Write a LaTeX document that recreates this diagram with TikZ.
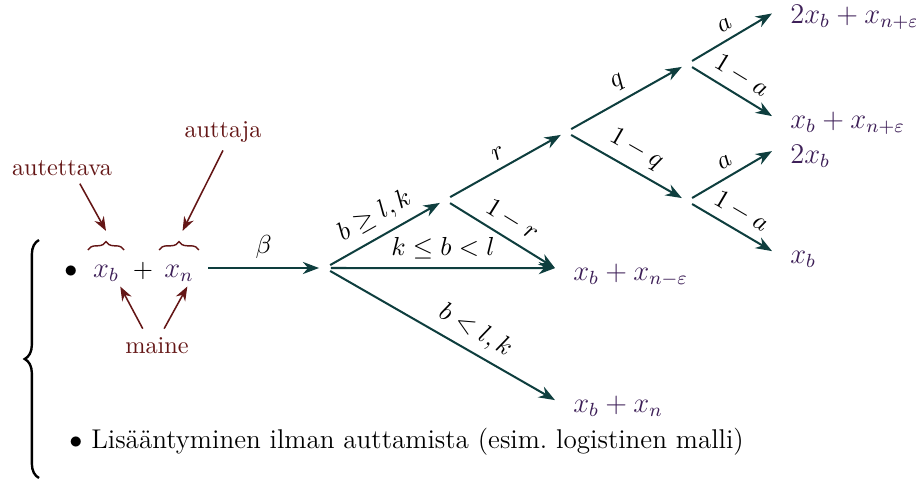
\documentclass[tikz,border=0pt]{standalone}
\usepackage{amsmath}
\usetikzlibrary{arrows.meta,decorations.pathreplacing}
\definecolor{treeteal}{RGB}{14,62,62}
\definecolor{notered}{RGB}{100,22,22}
\definecolor{termpurple}{RGB}{62,32,88}

\begin{document}
\begin{tikzpicture}[x=0.01477cm,y=-0.01477cm,>=Stealth,
  every node/.style={font=\fontsize{11.2pt}{13.5pt}\selectfont},
  tarrow/.style={->,draw=treeteal,line width=0.85pt},
  rarrow/.style={->,draw=notered,line width=0.65pt},
  overbr/.style={draw=notered,line width=0.6pt,decorate,decoration={brace,amplitude=3.5pt}},
  fork/.style={circle,inner sep=0pt,minimum size=4.6pt},
  leaf/.style={anchor=base west,inner xsep=7.5pt,text=termpurple,font=\fontsize{11.6pt}{14pt}\selectfont},
  lbl/.style={sloped,above},
  note/.style={anchor=base,text=notered,font=\fontsize{10.2pt}{12pt}\selectfont},
  term/.style={anchor=base,inner sep=2pt,text=termpurple,font=\fontsize{11.6pt}{14pt}\selectfont}]
\useasboundingbox (0,0) rectangle (916,480);
% ---------- brace and first item ----------
\draw[line width=1pt,decorate,decoration={brace,amplitude=6pt}] (39,478) -- (39,240);
\node[anchor=base] (bul1) at (71,277) {$\bullet$};
\node[term] (xb) at (106,277) {$x_b$};
\node[anchor=base] (plus) at (143,277) {$+$};
\node[term] (xn) at (179,277) {$x_n$};
\draw[overbr] ([yshift=4pt]xb.north west) -- ([yshift=4pt]xb.north east);
\draw[overbr] ([yshift=4pt]xn.north west) -- ([yshift=4pt]xn.north east);
% ---------- notes ----------
\node[note] (autettava) at (62,175) {autettava};
\node[note] (auttaja) at (223,137) {auttaja};
\node[note] (maine) at (157,353) {maine};
\draw[rarrow] ([xshift=7.5pt]autettava.south) -- ([yshift=12pt]xb.north);
\draw[rarrow] (auttaja.south) -- ([xshift=1.5pt,yshift=12pt]xn.north);
\draw[rarrow] ([xshift=-6pt]maine.north) -- ([xshift=6pt]xb.south);
\draw[rarrow] ([xshift=3pt]maine.north) -- ([xshift=3.5pt]xn.south);
% ---------- forks ----------
\node[fork] (f0) at (325,268) {};
\node[fork] (f1) at (445,200) {};
\node[fork] (f2) at (566,132) {};
\node[fork] (f3) at (687,64) {};
\node[fork] (f4) at (687,201) {};
% ---------- outcomes ----------
\node[leaf] (leafA) at (555,280) {$x_b+x_{n-\varepsilon}$};
\node[leaf] (leafB) at (555,412) {$x_b+x_n$};
\node[leaf] (leafC) at (772,23) {$2x_b+x_{n+\varepsilon}$};
\node[leaf] (leafD) at (772,128) {$x_b+x_{n+\varepsilon}$};
\node[leaf] (leafE) at (772,163) {$2x_b$};
\node[leaf] (leafF) at (772,263) {$x_b$};
\coordinate (inA) at ([yshift=5pt]leafA.base west);
\coordinate (inB) at ([yshift=5pt]leafB.base west);
\coordinate (inC) at ([yshift=4pt]leafC.base west);
\coordinate (inD) at ([yshift=5pt]leafD.base west);
\coordinate (inE) at ([yshift=5pt]leafE.base west);
\coordinate (inF) at ([yshift=5pt]leafF.base west);
% ---------- branches ----------
\draw[tarrow] ([xshift=4pt]xn.east |- f0) -- node[above] {$\beta$} (f0);
\draw[tarrow] (f0) -- node[lbl] {$b\geq l,k$} (f1);
\draw[tarrow] (f0) -- node[lbl] {$k\leq b<l$} (inA);
\draw[tarrow] (f0) -- node[lbl,pos=0.6] {$b<l,k$} (inB);
\draw[tarrow] (f1) -- node[lbl] {$r$} (f2);
\draw[tarrow] (f1) -- node[lbl] {$1-r$} (inA);
\draw[tarrow] (f2) -- node[lbl] {$q$} (f3);
\draw[tarrow] (f2) -- node[lbl] {$1-q$} (f4);
\draw[tarrow] (f3) -- node[lbl] {$a$} (inC);
\draw[tarrow] (f3) -- node[lbl] {$1-a$} (inD);
\draw[tarrow] (f4) -- node[lbl] {$a$} (inE);
\draw[tarrow] (f4) -- node[lbl] {$1-a$} (inF);
% ---------- second item ----------
\node[anchor=base west,font=\fontsize{11.4pt}{13.5pt}\selectfont] (bul2) at (61,448) {$\bullet$ Lisääntyminen ilman auttamista (esim.\ logistinen malli)};
\end{tikzpicture}
\end{document}
